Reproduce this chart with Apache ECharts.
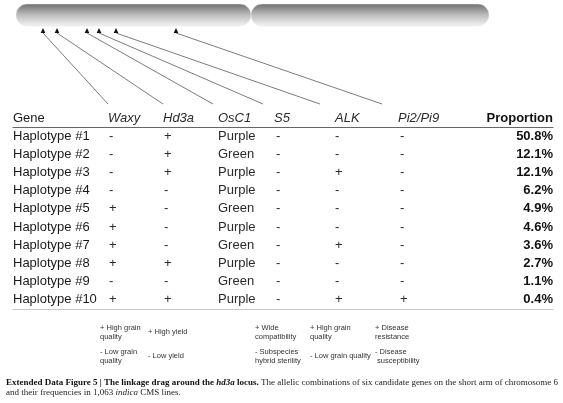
<!DOCTYPE html>
<html>
<head>
<meta charset="utf-8">
<script src="https://cdn.jsdelivr.net/npm/echarts@6/dist/echarts.min.js"></script>
<style>
  html, body { margin: 0; padding: 0; background: #fff; }
  #chart { width: 563px; height: 403px; }
</style>
</head>
<body>
<div id="chart"></div>
<script>
// table data
const haplotypes = ['Haplotype #1', 'Haplotype #2', 'Haplotype #3', 'Haplotype #4', 'Haplotype #5',
  'Haplotype #6', 'Haplotype #7', 'Haplotype #8', 'Haplotype #9', 'Haplotype #10'];
const genes = ['Waxy', 'Hd3a', 'OsC1', 'S5', 'ALK', 'Pi2/Pi9'];
const waxy = ['-', '-', '-', '-', '+', '+', '+', '+', '-', '+'];
const hd3a = ['+', '+', '+', '-', '-', '-', '-', '+', '-', '+'];
const osc1 = ['Purple', 'Green', 'Purple', 'Purple', 'Green', 'Purple', 'Green', 'Purple', 'Green', 'Purple'];
const s5 = ['-', '-', '-', '-', '-', '-', '-', '-', '-', '-'];
const alk = ['-', '-', '+', '-', '-', '-', '+', '-', '-', '+'];
const pi2 = ['-', '-', '-', '-', '-', '-', '-', '-', '-', '+'];
const proportion = [50.8, 12.1, 12.1, 6.2, 4.9, 4.6, 3.6, 2.7, 1.1, 0.4];

// footnote text under the gene columns
const plusNotes = [['+ High grain', 'quality'], ['+ High yield'], [], ['+ Wide', 'compatibility'], ['+ High grain', 'quality'], ['+ Disease', 'resistance']];
const minusNotes = [['- Low grain', 'quality'], ['- Low yield'], [], ['- Subspecies', 'hybrid sterility'], ['- Low grain quality'], ['- Disease', ' susceptibility']];

// layout (pixels)
const colX = [13, 109, 164, 218, 276, 335, 400];
const headX = [13, 108, 163, 218, 274, 335, 398];
const propX = 553;
const noteX = [100, 148, 0, 255, 310, 375];
const markerX = [43, 57, 87, 99, 116, 176];
const headEnd = [108, 163, 213, 263, 320, 382];

const sans = '"Liberation Sans", Arial, sans-serif';
const cellFont = '13px ' + sans;

const chart = echarts.init(document.getElementById('chart'), null, { renderer: 'canvas' });

const columns = [waxy, hd3a, osc1, s5, alk, pi2];

function renderRow(params, api) {
  const i = api.value(0);
  const children = [];
  const y = api.coord([colX[0], i])[1];
  children.push({
    type: 'text',
    style: { x: api.coord([colX[0], i])[0], y: y, text: haplotypes[i], font: cellFont, fill: '#1a1a1a', align: 'left', verticalAlign: 'middle' }
  });
  for (let c = 0; c < columns.length; c++) {
    children.push({
      type: 'text',
      style: { x: api.coord([colX[c + 1], i])[0], y: y, text: columns[c][i], font: cellFont, fill: '#2a2a2a', align: 'left', verticalAlign: 'middle' }
    });
  }
  children.push({
    type: 'text',
    style: { x: api.coord([propX, i])[0], y: y, text: proportion[i].toFixed(1) + '%', font: 'bold 13px ' + sans, fill: '#111', align: 'right', verticalAlign: 'middle' }
  });
  return { type: 'group', children: children };
}

const graphics = [];

// chromosome arms
const chromFill = function () {
  return new echarts.graphic.LinearGradient(0, 0, 0, 1, [
    { offset: 0, color: '#6f6f6f' },
    { offset: 0.5, color: '#bdbdbd' },
    { offset: 1, color: '#f4f4f4' }
  ]);
};
graphics.push({ type: 'rect', shape: { x: 16, y: 4, width: 235, height: 22, r: 11 }, style: { fill: chromFill(), stroke: '#e6e6e6', lineWidth: 0.5 } });
graphics.push({ type: 'rect', shape: { x: 251, y: 4, width: 238, height: 22, r: 11 }, style: { fill: chromFill(), stroke: '#e6e6e6', lineWidth: 0.5 } });

// gene markers and connector lines
for (let g = 0; g < markerX.length; g++) {
  graphics.push({ type: 'polygon', shape: { points: [[markerX[g], 28], [markerX[g] - 2.3, 33], [markerX[g] + 2.3, 33]] }, style: { fill: '#111' } });
  graphics.push({ type: 'line', shape: { x1: markerX[g], y1: 33, x2: headEnd[g], y2: 104 }, style: { stroke: '#444', lineWidth: 0.7 } });
}

// header row
graphics.push({ type: 'text', style: { x: headX[0], y: 118, text: 'Gene', font: cellFont, fill: '#1a1a1a', verticalAlign: 'middle' } });
for (let g = 0; g < genes.length; g++) {
  graphics.push({ type: 'text', style: { x: headX[g + 1], y: 118, text: genes[g], font: 'italic 13px ' + sans, fill: '#2a2a2a', verticalAlign: 'middle' } });
}
graphics.push({ type: 'text', style: { x: propX, y: 118, text: 'Proportion', font: 'bold 13px ' + sans, fill: '#111', align: 'right', verticalAlign: 'middle' } });

// footnotes
const noteFont = '7.5px ' + sans;
for (let g = 0; g < genes.length; g++) {
  const p = plusNotes[g], m = minusNotes[g];
  if (p.length) {
    graphics.push({ type: 'text', style: { x: noteX[g], y: 332, text: p.join('\n'), font: noteFont, lineHeight: 9, fill: '#333', verticalAlign: 'middle' } });
  }
  if (m.length) {
    graphics.push({ type: 'text', style: { x: noteX[g], y: 356, text: m.join('\n'), font: noteFont, lineHeight: 9, fill: '#333', verticalAlign: 'middle' } });
  }
}

// caption
const serif = '"Liberation Serif", "Times New Roman", serif';
const capSize = '9px ';
graphics.push({
  type: 'text',
  style: {
    x: 6, y: 383, verticalAlign: 'middle',
    text: '{b|Extended Data Figure 5 | The linkage drag around the }{bi|hd3a}{b| locus.}{r| The allelic combinations of six candidate genes on the short arm of chromosome 6}',
    rich: {
      b: { font: 'bold ' + capSize + serif, fill: '#111' },
      bi: { font: 'bold italic ' + capSize + serif, fill: '#111' },
      r: { font: capSize + serif, fill: '#222' }
    }
  }
});
graphics.push({
  type: 'text',
  style: {
    x: 6, y: 393, verticalAlign: 'middle',
    text: '{r|and their frequencies in 1,063 }{i|indica}{r| CMS lines.}',
    rich: {
      i: { font: 'italic ' + capSize + serif, fill: '#222' },
      r: { font: capSize + serif, fill: '#222' }
    }
  }
});

const option = {
  animation: false,
  backgroundColor: '#fff',
  grid: { left: 13, right: 10, top: 127, bottom: 94 },
  xAxis: [
    { type: 'value', position: 'top', min: 13, max: 553, axisLine: { show: true, lineStyle: { color: '#666', width: 1 } }, axisTick: { show: false }, axisLabel: { show: false }, splitLine: { show: false } },
    { type: 'value', position: 'bottom', min: 13, max: 553, axisLine: { show: true, lineStyle: { color: '#c8c8c8', width: 1 } }, axisTick: { show: false }, axisLabel: { show: false }, splitLine: { show: false } }
  ],
  yAxis: { type: 'category', data: haplotypes, inverse: true, show: false },
  series: [{
    type: 'custom',
    xAxisIndex: 0,
    renderItem: renderRow,
    data: haplotypes.map(function (h, i) { return [i]; }),
    encode: { y: 0 }
  }],
  graphic: graphics
};

chart.setOption(option);
</script>
</body>
</html>
